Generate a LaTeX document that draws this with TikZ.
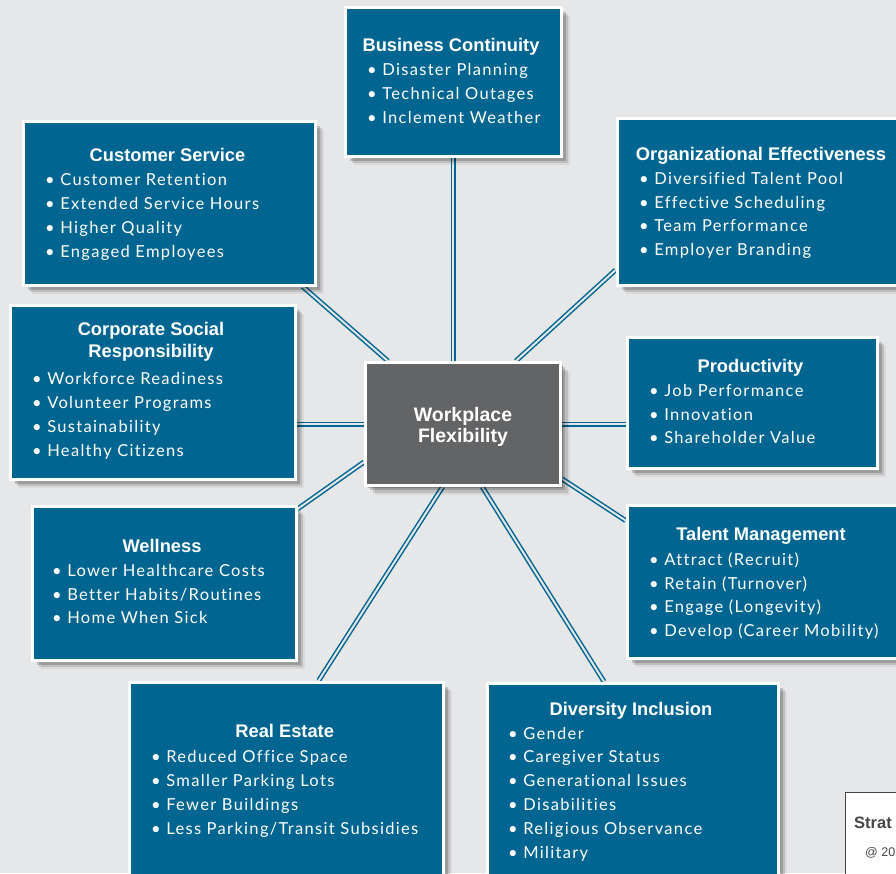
\documentclass[tikz,border=0pt]{standalone}
\usepackage{fontspec}
\setmainfont{Lato}
\newfontfamily\headfont{Liberation Sans}
\newfontfamily\itemfont[LetterSpace=8,Ligatures=CommonOff]{Lato}
\usetikzlibrary{calc,shadows}
\definecolor{paper}{RGB}{230,231,233}
\definecolor{flexblue}{RGB}{0,102,145}
\definecolor{hubgray}{RGB}{99,100,102}
\definecolor{creditgray}{RGB}{70,70,72}
\pgfdeclarelayer{bg}
\pgfdeclarelayer{links}
\pgfsetlayers{bg,links,main}
\newcommand{\lnstrut}{\rule{0pt}{17pt}}

\begin{document}
\begin{tikzpicture}[x=1pt,y=-1pt,
  soft/.style={drop shadow={shadow xshift=2pt, shadow yshift=-2pt, fill=black, opacity=.2},
    drop shadow={shadow xshift=4.5pt, shadow yshift=-4.5pt, fill=black, opacity=.18},
    drop shadow={shadow xshift=7pt, shadow yshift=-7pt, fill=black, opacity=.12},
    drop shadow={shadow xshift=9pt, shadow yshift=-9pt, fill=black, opacity=.06}},
  box/.style={soft, draw=white, line width=3pt, fill=flexblue, anchor=north west, inner sep=0pt},
  hub/.style={box, fill=hubgray, anchor=center},
  hubtext/.style={text=white, align=center, inner sep=0pt,
    font=\headfont\bfseries\fontsize{19.5}{20.6}\selectfont},
  ttl/.style={text=white, anchor=north, inner sep=0pt, align=center,
    font=\headfont\bfseries\fontsize{18.3}{21.7}\selectfont, execute at begin node=\lnstrut},
  items/.style={text=white, anchor=north west, inner sep=0pt, align=left,
    font=\itemfont\fontsize{16.5}{23.8}\selectfont, execute at begin node=\lnstrut},
  link/.style={draw=flexblue, line width=1.5pt, double=paper, double distance=2pt}]
  \useasboundingbox (0,0) rectangle (896,873);
  \clip (0,0) rectangle (896,873);
  \begin{pgfonlayer}{bg}
    \fill[paper] (0,0) rectangle (896,873);
  \end{pgfonlayer}

  % centre
  \node[hub, minimum width=195pt, minimum height=123pt] (wf) at (463,424) {};
  \node[hubtext] (wft) at (463,427) {Workplace\\Flexibility};

  % Business Continuity
  \node[box, minimum width=216pt, minimum height=149pt] (bc) at (343.5,5.5) {};
  \node[ttl] (bct) at (451,34) {Business Continuity};
  \node[items] (bci) at (367,63.5) {• Disaster Planning\\• Technical Outages\\• Inclement Weather};

  % Customer Service
  \node[box, minimum width=292pt, minimum height=164pt] (cs) at (21.5,119.5) {};
  \node[ttl] (cst) at (167.5,144) {Customer Service};
  \node[items] (csi) at (45,173.5) {• Customer Retention\\• Extended Service Hours\\• Higher Quality\\• Engaged Employees};

  % Organizational Effectiveness
  \node[box, minimum width=291pt, minimum height=167pt] (oe) at (615.5,116.5) {};
  \node[ttl] (oet) at (761,143) {Organizational Effectiveness};
  \node[items] (oei) at (639,172) {• Diversified Talent Pool\\• Effective Scheduling\\• Team Performance\\• Employer Branding};

  % Corporate Social Responsibility
  \node[box, minimum width=285pt, minimum height=174pt] (csr) at (8.5,303.5) {};
  \node[ttl] (csrt) at (151,322.3) {Corporate Social\\Responsibility};
  \node[items] (csri) at (32,372.3) {• Workforce Readiness\\• Volunteer Programs\\• Sustainability\\• Healthy Citizens};

  % Productivity
  \node[box, minimum width=250pt, minimum height=131pt] (pr) at (625.5,335.5) {};
  \node[ttl] (prt) at (750.5,355.3) {Productivity};
  \node[items] (pri) at (649,384) {• Job Performance\\• Innovation\\• Shareholder Value};

  % Talent Management
  \node[box, minimum width=271pt, minimum height=153pt] (tm) at (625.5,503.5) {};
  \node[ttl] (tmt) at (761,523) {Talent Management};
  \node[items] (tmi) at (649,552.3) {• Attract (Recruit)\\• Retain (Turnover)\\• Engage (Longevity)\\• Develop (Career Mobility)};

  % Wellness
  \node[box, minimum width=264pt, minimum height=154pt] (wl) at (30.5,504.5) {};
  \node[ttl] (wlt) at (162,535.3) {Wellness};
  \node[items] (wli) at (52,564) {• Lower Healthcare Costs\\• Better Habits/Routines\\• Home When Sick};

  % Real Estate
  \node[box, minimum width=314pt, minimum height=211pt] (re) at (127.5,680.5) {};
  \node[ttl] (ret) at (284.7,720.7) {Real Estate};
  \node[items] (rei) at (151,750.3) {• Reduced Office Space\\• Smaller Parking Lots\\• Fewer Buildings\\• Less Parking/Transit Subsidies};

  % Diversity Inclusion
  \node[box, minimum width=291pt, minimum height=210pt] (di) at (485.5,681.5) {};
  \node[ttl] (dit) at (631,698) {Diversity Inclusion};
  \node[items] (dii) at (508,726.7) {• Gender\\• Caregiver Status\\• Generational Issues\\• Disabilities\\• Religious Observance\\• Military};

  % credit box, cut by the page edge
  \node[draw=creditgray, line width=1pt, fill=white, anchor=north west, inner sep=0pt,
    minimum width=120pt, minimum height=100pt] (st) at (844.5,791.5) {};
  \node[anchor=base west, inner sep=0pt, text=creditgray,
    font=\headfont\bfseries\fontsize{16.5}{19}\selectfont] (stt) at (854,828.3) {Strat};
  \node[anchor=base west, inner sep=0pt, text=creditgray,
    font=\headfont\fontsize{12.5}{15}\selectfont] (sty) at (865,856) {@ 20};

  % connectors
  \begin{pgfonlayer}{links}
    \draw[link] (bc.south) -- (bc.south |- wf.north);
    \draw[link] (cs.-32) -- (wf.140);
    \draw[link] (csr.east |- wf.west) -- (wf.west);
    \draw[link] (wl.29) -- (wf.201);
    \draw[link] (re.73) -- (wf.-108);
    \draw[link] (di.105) -- (wf.-73);
    \draw[link] (tm.156) -- (wf.-29.5);
    \draw[link] (wf.east) -- (wf.east -| pr.west);
    \draw[link] (oe.205.5) -- (wf.50);
  \end{pgfonlayer}
\end{tikzpicture}
\end{document}
